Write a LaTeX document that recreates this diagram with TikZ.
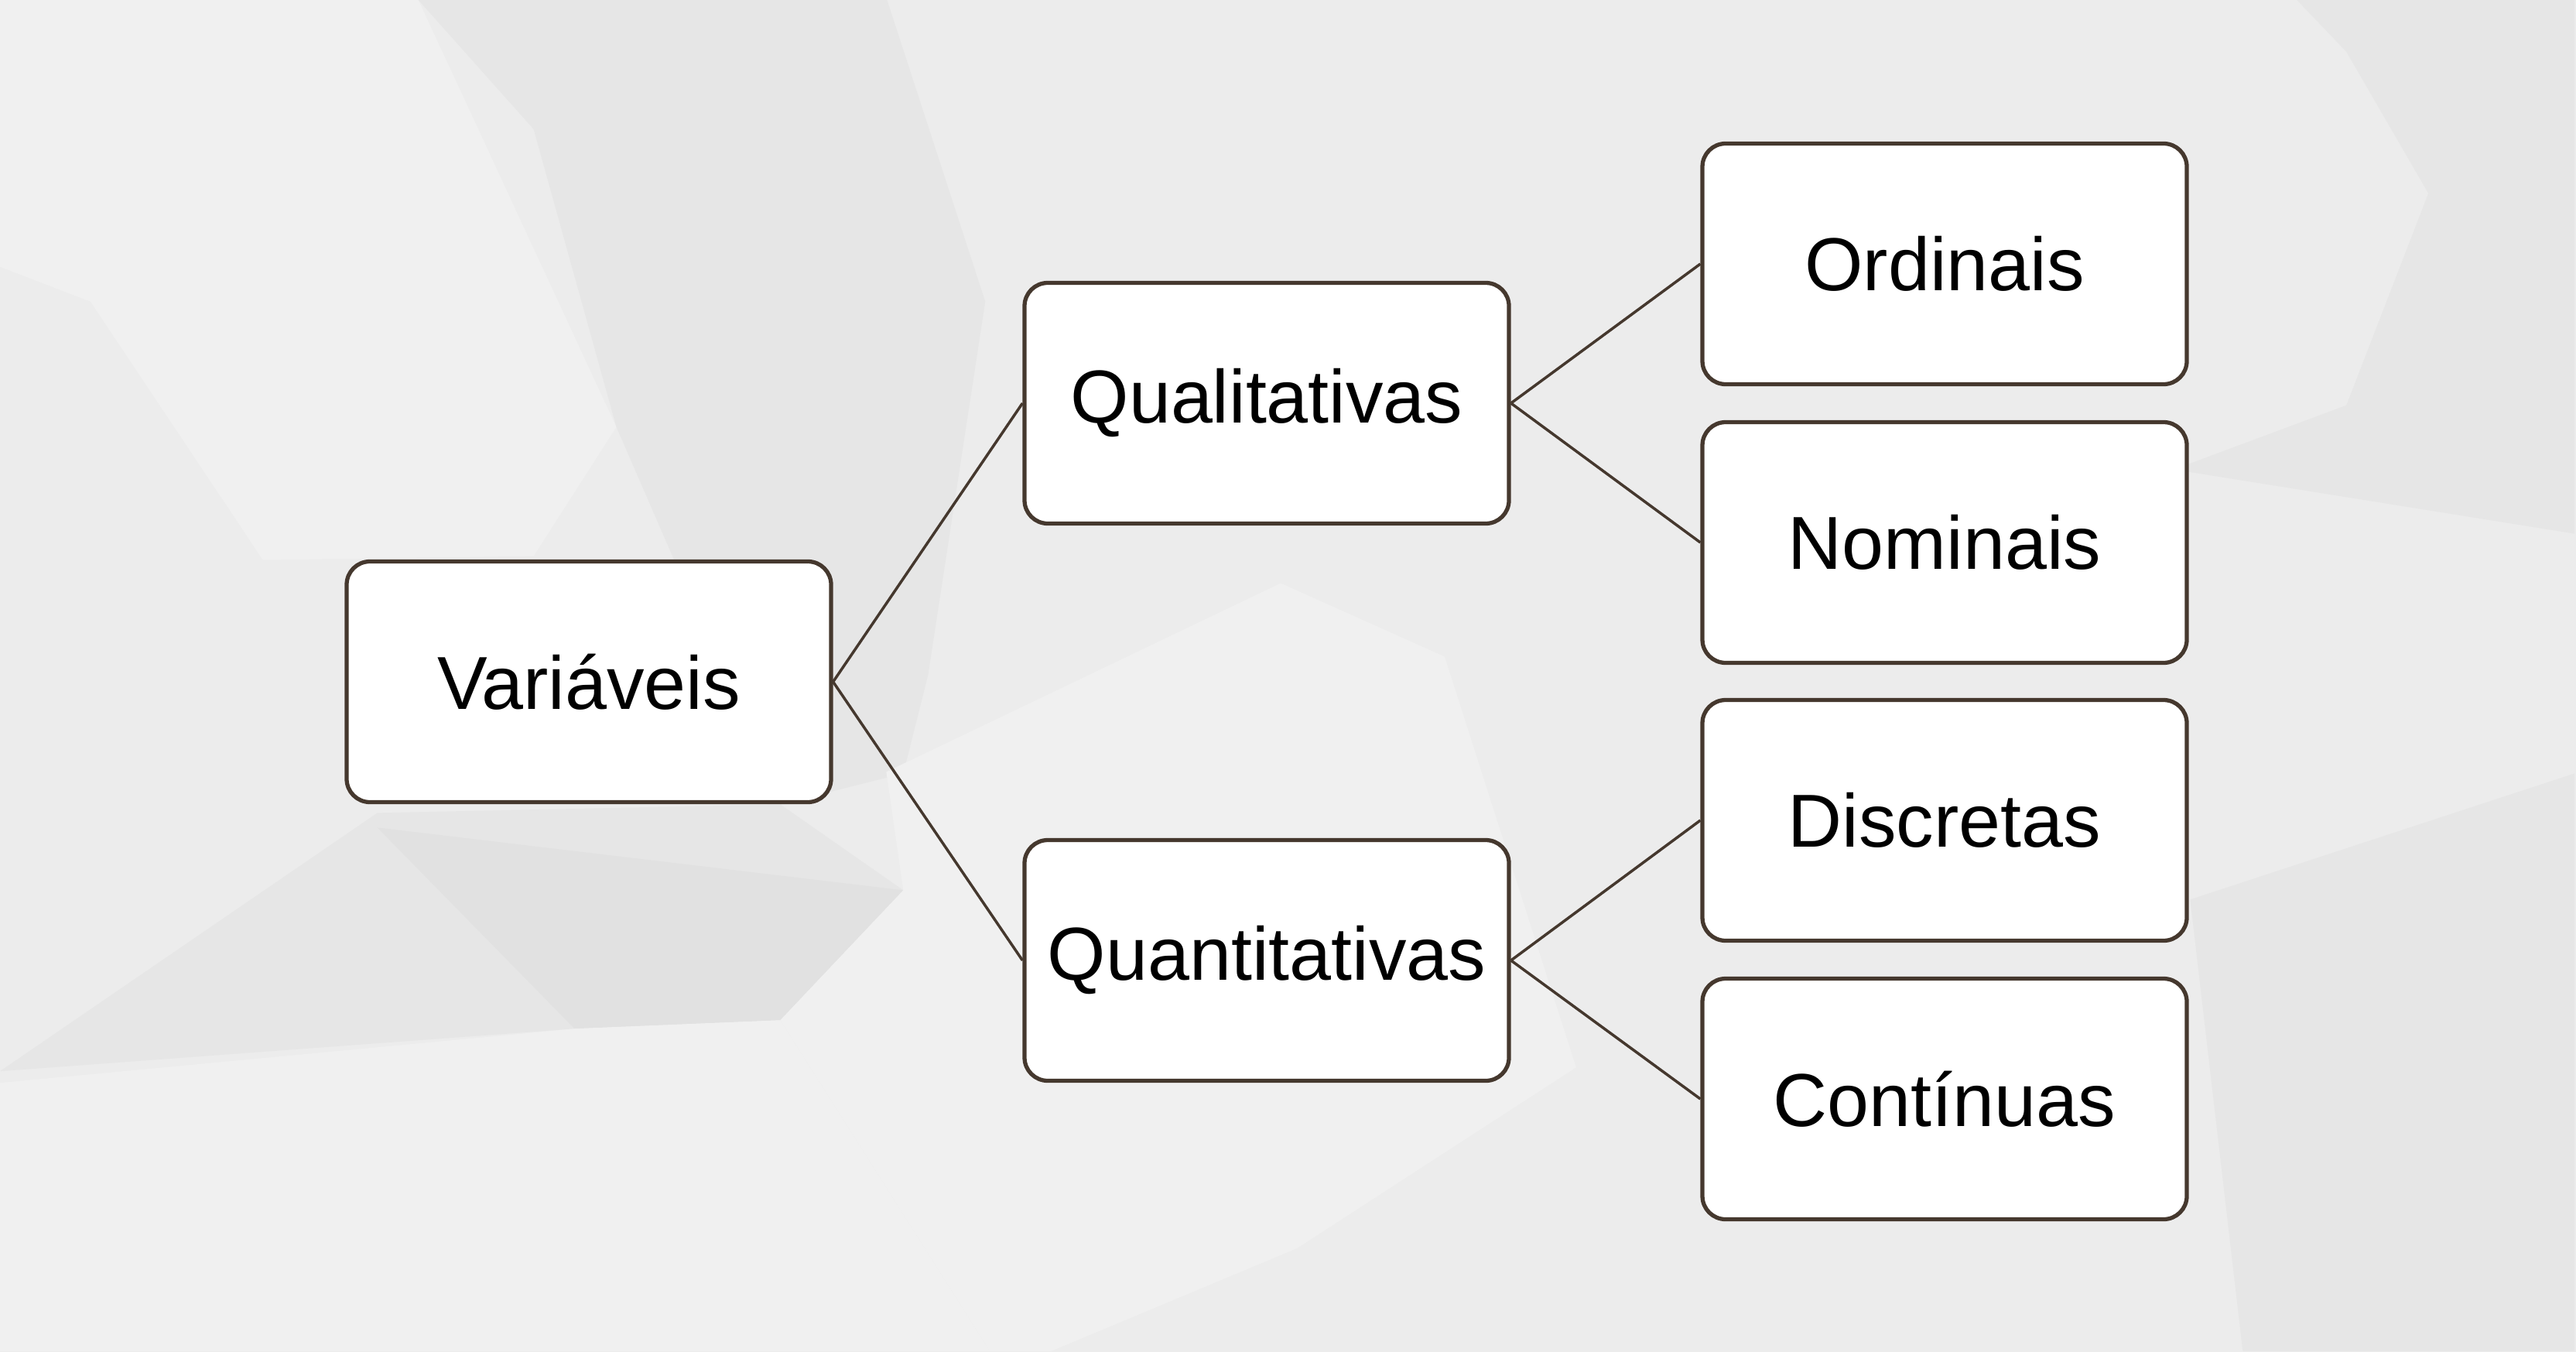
\documentclass[tikz,border=0pt]{standalone}
\usepackage{fontspec}
\setmainfont{Liberation Sans}
\usetikzlibrary{positioning}

\definecolor{boxline}{HTML}{45382E}
\definecolor{bgbase}{HTML}{ECECEC}
\definecolor{bglight}{HTML}{F0F0F0}
\definecolor{bgdark}{HTML}{E6E6E6}
\definecolor{bgdarker}{HTML}{E1E1E1}

\begin{document}
\begin{tikzpicture}
[
	              y = -1cm,
	     box/.style = { draw=boxline, fill=white, line width=1.5pt, rounded corners=0.3cm,
	                    minimum width=6.26cm, minimum height=3.11cm, inner sep=0pt,
	                    font=\fontsize{27.6}{33}\selectfont },
	    link/.style = { draw=boxline, line width=1pt }
]
	% background
	\fill[bgbase] (0,0) rectangle (33.29,17.47);
	\useasboundingbox (0,0) rectangle (33.29,17.47);
	\begin{scope}[x=0.01cm, y=-0.01cm]
		\fill[bglight] (0,0) -- (541,0) -- (797,552) -- (690,719) -- (340,724) -- (117,390) -- (0,345) -- cycle;
		\fill[bgdark] (541,0) -- (1147,0) -- (1274,390) -- (1200,873) -- (1168,1000) -- (1009,1040) -- (797,552) -- (690,167) -- cycle;
		\fill[bgdark] (0,1385) -- (488,1051) -- (1009,1040) -- (1168,1151) -- (1009,1319) -- (743,1330) -- cycle;
		\fill[bgdarker] (488,1070) -- (743,1330) -- (1009,1319) -- (1168,1151) -- cycle;
		\fill[bglight] (0,1400) -- (743,1330) -- (1009,1319) -- (1280,1747) -- (0,1747) -- cycle;
		\fill[bglight] (1146,998) -- (1656,754) -- (1868,849) -- (2038,1380) -- (1677,1614) -- (1359,1747) -- (1280,1747) -- (1009,1319) -- (1168,1151) -- cycle;
		\fill[bgdark] (2970,0) -- (3329,0) -- (3329,690) -- (2811,607) -- (3034,524) -- (3140,250) -- (3034,67) -- cycle;
		\fill[bgdark] (2832,1163) -- (3329,1000) -- (3329,1747) -- (2900,1747) -- cycle;
	\end{scope}

	% nodes
	\node (Var)   at (7.61,8.81)   [box] {Variáveis};
	\node (Qual)  at (16.37,5.21)  [box] {Qualitativas};
	\node (Quant) at (16.37,12.41) [box] {Quantitativas};
	\node (Ord)   at (25.13,3.41)  [box] {Ordinais};
	\node (Nom)   at (25.13,7.01)  [box] {Nominais};
	\node (Disc)  at (25.13,10.60) [box] {Discretas};
	\node (Cont)  at (25.13,14.20) [box] {Contínuas};

	% edges
	\draw [link] (Var.east) edge (Qual.west) (Var.east) edge (Quant.west);
	\draw [link] (Qual.east) edge (Ord.west) (Qual.east) edge (Nom.west);
	\draw [link] (Quant.east) edge (Disc.west) (Quant.east) edge (Cont.west);
\end{tikzpicture}
\end{document}
